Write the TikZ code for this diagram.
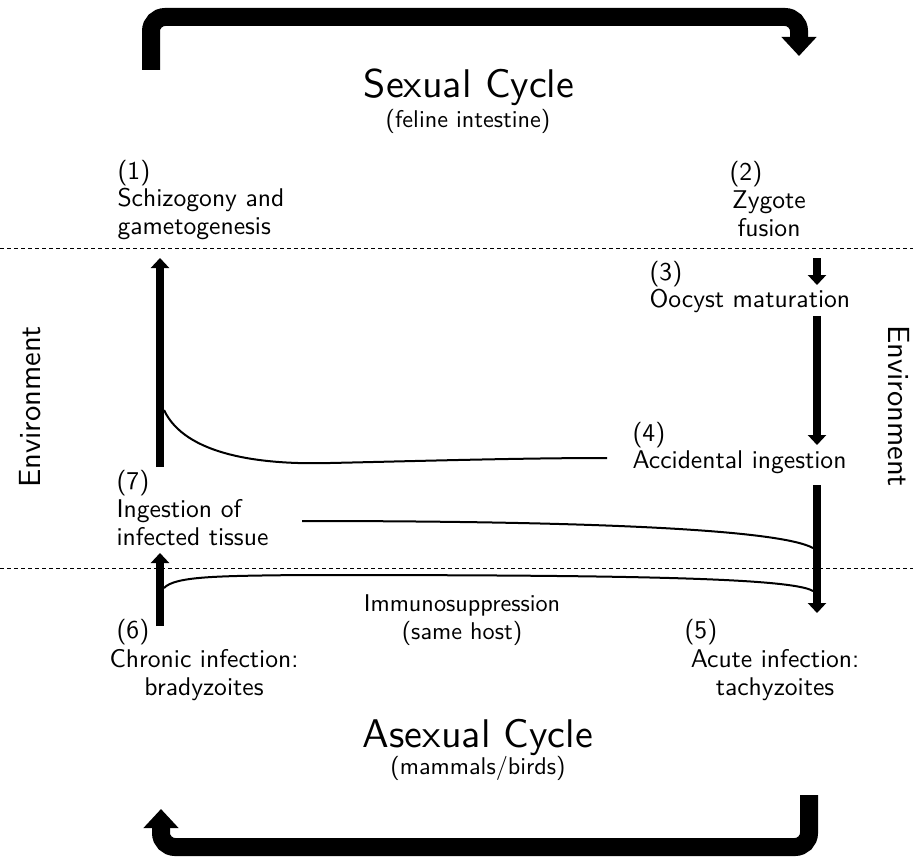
\documentclass[tikz,border=0pt]{standalone}
\usetikzlibrary{arrows.meta}
\renewcommand{\familydefault}{\sfdefault}

\begin{document}
\begin{tikzpicture}[x=0.5pt, y=-0.5pt,
    lbl/.style={font=\fontsize{10}{10.9}\selectfont, scale=1.28, inner sep=0pt},
    sub/.style={font=\fontsize{10}{11.5}\selectfont, scale=1.21, inner sep=0pt},
    ttl/.style={font=\fontsize{10}{12}\selectfont, scale=2.0, inner sep=0pt},
    env/.style={font=\fontsize{10}{12}\selectfont, scale=1.53, inner sep=0pt},
    cycle arrow/.style={line width=9pt, rounded corners=7pt, -{Triangle[width=17pt,length=9.5pt]}},
    stage arrow/.style={line width=4pt, -{Triangle[width=9pt,length=5pt]}},
    route/.style={line width=1pt},
    border/.style={dashed, line width=0.5pt, dash pattern=on 2pt off 1.5pt}]
  \useasboundingbox (0,0) rectangle (913,856);

  % big cycle arrows
  \coordinate (TL) at (151, 70);
  \coordinate (TR) at (799, 56);
  \coordinate (BR) at (809, 795);
  \coordinate (BL) at (161, 809);
  \draw[cycle arrow] (TL) -- (151, 17) -- (799, 17) -- (TR);
  \draw[cycle arrow] (BR) -- (809, 847) -- (161, 847) -- (BL);

  \node[ttl] (sexual) at (469, 87) {Sexual Cycle};
  \node[sub] (feline) at (468, 121) {(feline intestine)};
  \node[ttl] (asexual) at (478, 737) {Asexual Cycle};
  \node[sub] (mammals) at (478, 768) {(mammals/birds)};

  % borders of the environment
  \coordinate (Lup) at (0, 248);
  \coordinate (Rup) at (913, 248);
  \coordinate (Llow) at (0, 568);
  \coordinate (Rlow) at (913, 568);
  \draw[border] (Lup) -- (Rup);
  \draw[border] (Llow) -- (Rlow);
  \node[env, rotate=90] (envL) at (30, 407) {Environment};
  \node[env, rotate=-90] (envR) at (899, 406) {Environment};

  % stages
  \node[lbl, anchor=west, align=left] (S1) at (117, 200) {(1)\\Schizogony and\\gametogenesis};
  \node[lbl, anchor=west] (S2num) at (729, 174) {(2)};
  \node[lbl, align=center] (S2) at (769, 214) {Zygote\\fusion};
  \node[lbl, anchor=west, align=left] (S3) at (649, 287) {(3)\\Oocyst maturation};
  \node[lbl, anchor=west, align=left] (S4) at (632, 448) {(4)\\Accidental ingestion};
  \node[lbl, anchor=west] (S5num) at (684, 632) {(5)};
  \node[lbl, align=center] (S5) at (775, 675) {Acute infection:\\tachyzoites};
  \node[lbl, anchor=west] (S6num) at (116, 632) {(6)};
  \node[lbl, align=center] (S6) at (204, 675) {Chronic infection:\\bradyzoites};
  \node[lbl, anchor=west, align=left] (S7) at (116, 508) {(7)\\Ingestion of\\infected tissue};
  \node[sub, align=center] (immuno) at (462, 620) {Immunosuppression\\(same host)};

  % right column
  \coordinate (A) at (817, 258);
  \coordinate (B) at (817, 285);
  \coordinate (C) at (817, 316);
  \coordinate (D) at (817, 445);
  \coordinate (E) at (817, 485);
  \coordinate (F) at (817, 613);
  \draw[stage arrow] (A) -- (B);
  \draw[stage arrow] (C) -- (D);
  \draw[stage arrow] (E) -- (F);

  % left column
  \coordinate (G) at (160, 467);
  \coordinate (H) at (160, 258);
  \coordinate (I) at (160, 626);
  \coordinate (J) at (160, 553);
  \draw[stage arrow] (G) -- (H);
  \draw[stage arrow] (I) -- (J);

  % routes between the columns
  \coordinate (K) at (164, 410);
  \coordinate (L) at (607, 458);
  \coordinate (M) at (302, 521);
  \coordinate (N) at (813, 548);
  \coordinate (O) at (164, 588);
  \coordinate (P) at (813, 591);
  \draw[route] (K) .. controls (185, 455) and (260, 465) .. (330, 463)
    .. controls (420, 461) and (520, 458) .. (L);
  \draw[route] (M) .. controls (600, 521) and (780, 530) .. (N);
  \draw[route] (O) .. controls (175, 576) and (220, 576) .. (300, 575)
    .. controls (600, 575) and (790, 577) .. (P);
\end{tikzpicture}
\end{document}
